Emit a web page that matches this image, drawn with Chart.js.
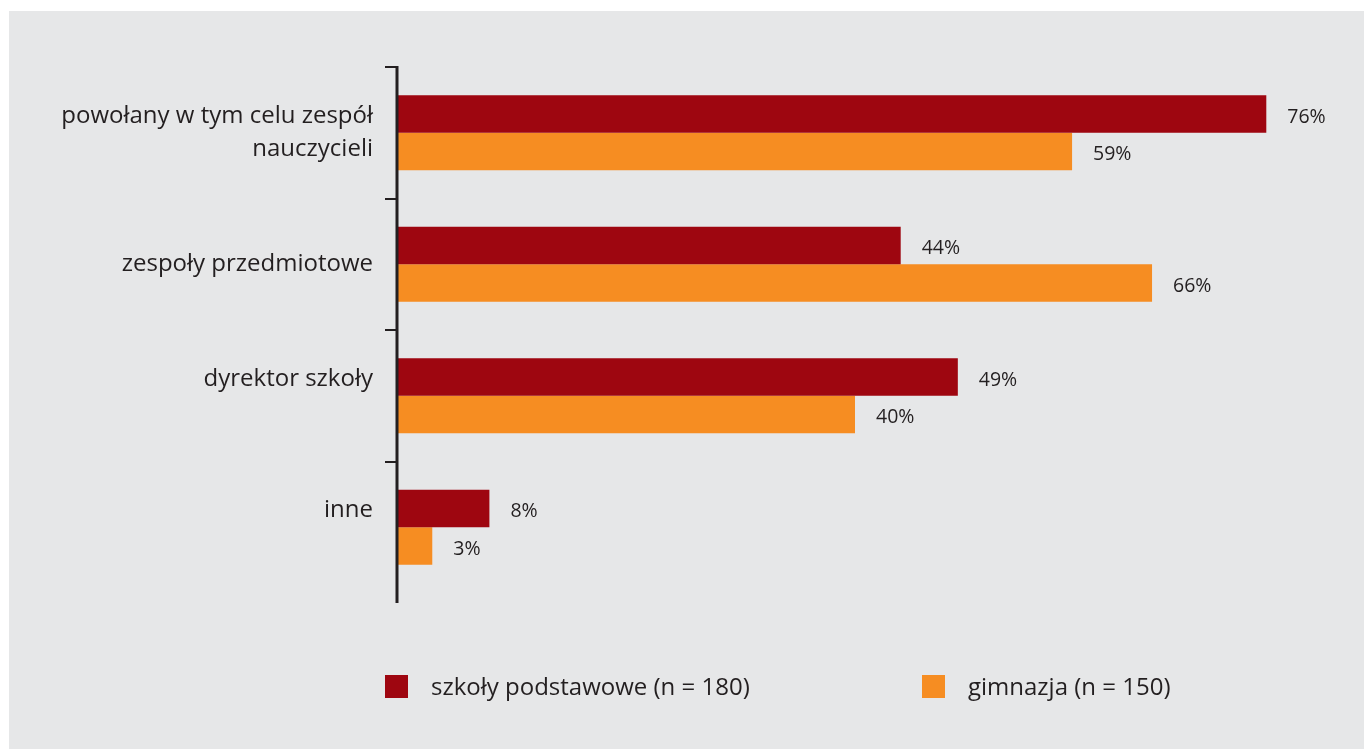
<!DOCTYPE html>
<html>
<head>
<meta charset="utf-8">
<script src="https://cdn.jsdelivr.net/npm/chart.js@4/dist/chart.umd.min.js"></script>
<style>
  html, body { margin: 0; padding: 0; background: #ffffff; }
  #panel { position: absolute; left: 9px; top: 11px; width: 1355px; height: 738px; background: #e6e7e8; }
  #wrap { position: absolute; left: 0; top: 0; width: 1364px; height: 749px; }
  #legend { position: absolute; top: 675px; left: 0; width: 1364px; height: 24px; font-family: "Open Sans", sans-serif; font-size: 24px; color: #231f20; }
  .item { position: absolute; top: 0; height: 23px; line-height: 23px; white-space: nowrap; }
  .box { position: absolute; left: 0; top: 0; width: 23px; height: 23px; }
  .txt { position: absolute; left: 46px; top: -1px; }
</style>
</head>
<body>
<div id="panel"></div>
<div id="wrap"><canvas id="chart" width="1364" height="749"></canvas></div>
<div id="legend"></div>
<script>
// categories (empty line keeps the label a little above the band centre, as in the original)
const categories = [
    ['powołany w tym celu zespół', 'nauczycieli'],
    'zespoły przedmiotowe',
    ['dyrektor szkoły', ''],
    ['inne', '']
];
const seriesNames = ['szkoły podstawowe (n = 180)', 'gimnazja (n = 150)'];
const podstawowe = [76, 44, 49, 8];
const gimnazja = [59, 66, 40, 3];

const colors = ['#9e0610', '#f68d22'];
const textColor = '#231f20';
const axisColor = '#231f20';

// value labels at the end of each bar
const valueLabels = {
    id: 'valueLabels',
    afterDatasetsDraw(chart) {
        const ctx = chart.ctx;
        ctx.save();
        ctx.font = '19.5px "Open Sans", sans-serif';
        ctx.fillStyle = textColor;
        ctx.textBaseline = 'middle';
        ctx.textAlign = 'left';
        chart.data.datasets.forEach((ds, i) => {
            const meta = chart.getDatasetMeta(i);
            meta.data.forEach((bar, j) => {
                ctx.fillText(ds.data[j] + '%', bar.x + 21, bar.y + 3);
            });
        });
        ctx.restore();
    }
};

// axis line runs a bit past the last band
const axisTail = {
    id: 'axisTail',
    afterDraw(chart) {
        const a = chart.chartArea;
        const ctx = chart.ctx;
        ctx.save();
        ctx.strokeStyle = axisColor;
        ctx.lineWidth = 3;
        ctx.beginPath();
        ctx.moveTo(a.left - 1, a.top - 1);
        ctx.lineTo(a.left - 1, a.bottom + 10);
        ctx.stroke();
        ctx.restore();
    }
};

const ctx = document.getElementById('chart').getContext('2d');
new Chart(ctx, {
    type: 'bar',
    data: {
        labels: categories,
        datasets: [
            { label: seriesNames[0], data: podstawowe, backgroundColor: colors[0] },
            { label: seriesNames[1], data: gimnazja, backgroundColor: colors[1] }
        ]
    },
    options: {
        indexAxis: 'y',
        responsive: false,
        animation: false,
        events: [],
        layout: { padding: { left: 0, top: 67, right: 52, bottom: 156 } },
        datasets: {
            bar: { barPercentage: 1.0, categoryPercentage: 0.57, borderWidth: 0 }
        },
        plugins: {
            legend: { display: false },
            tooltip: { enabled: false }
        },
        scales: {
            x: {
                display: false,
                min: 0,
                max: 80
            },
            y: {
                afterFit(scale) { scale.width = 398; },
                border: { display: false },
                grid: {
                    offset: true,
                    drawOnChartArea: false,
                    drawTicks: true,
                    tickLength: 13,
                    lineWidth: 2,
                    color: c => c.type === 'tick' ? axisColor : 'rgba(0,0,0,0)'
                },
                ticks: {
                    padding: 12,
                    color: textColor,
                    font: { family: '"Open Sans", sans-serif', size: 24, lineHeight: 1.4 }
                }
            }
        }
    },
    plugins: [valueLabels, axisTail]
});

// legend
const legendPos = [385, 922];
const legend = document.getElementById('legend');
seriesNames.forEach((name, i) => {
    const item = document.createElement('div');
    item.className = 'item';
    item.style.left = legendPos[i] + 'px';
    item.innerHTML = '<div class="box" style="background:' + colors[i] + '"></div><span class="txt">' + name + '</span>';
    legend.appendChild(item);
});
</script>
</body>
</html>
